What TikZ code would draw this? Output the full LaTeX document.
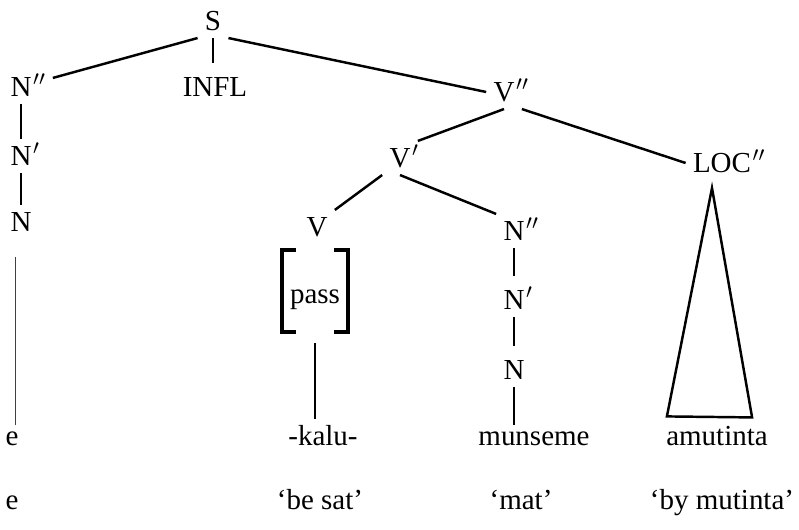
\documentclass[tikz,border=0pt]{standalone}
\usepackage{fontspec}
\setmainfont{Liberation Serif}

\tikzstyle{cat}     = [inner sep = 4pt, text height = 11pt, text depth = 0pt]
\tikzstyle{word}    = [inner sep = 4pt, anchor = base]
\tikzstyle{branch}  = [line width = 1.4pt]
\tikzstyle{bracket} = [line width = 2.4pt]

\newcommand{\onebar}{\rlap{\kern1pt$^{\prime}$}}
\newcommand{\twobar}{\rlap{\kern1pt$^{\prime\prime}$}}

\begin{document}
\begin{tikzpicture}[x = 0.02cm, y = -0.02cm,
    every node/.style = {font = \fontsize{16.5}{20}\selectfont}]
  \useasboundingbox (0, 0) rectangle (799, 530);

  % Categories
  \node[cat] (s)    at (213, 21)  {S};
  \node[cat] (infl) at (215, 87)  {INFL};
  \node[cat] (na2)  at (21, 87)   {N\twobar};
  \node[cat] (na1)  at (21, 156)  {N\onebar};
  \node[cat] (na0)  at (21, 222)  {N};
  \node[cat] (v2)   at (504, 92)  {V\twobar};
  \node[cat] (v1)   at (400, 158) {V\onebar};
  \node[cat] (loc)  at (722, 163) {LOC\twobar};
  \node[cat] (v)    at (317, 227) {V};
  \node[cat] (nb2)  at (514, 231) {N\twobar};
  \node[cat] (nb1)  at (514, 300) {N\onebar};
  \node[cat] (nb0)  at (514, 370) {N};

  % Feature bracket under V
  \node (pass) at (315, 291) [minimum width = 37.5pt, minimum height = 46.7pt,
    text height = 18pt, text depth = 3.6pt] {pass};
  \draw[bracket] ([shift = {(14, 0)}]pass.north west) -| (pass.south west) -- ++(14, 0);
  \draw[bracket] ([shift = {(-14, 0)}]pass.north east) -| (pass.south east) -- ++(-14, 0);

  % Words and glosses
  \node[word] (e)        at (12, 446)  {e};
  \node[word] (kalu)     at (323, 446) {-kalu-};
  \node[word] (munseme)  at (534, 446) {munseme};
  \node[word] (amutinta) at (717, 446) {amutinta};

  \node[word] (e-gl)        at (12, 510)  {e};
  \node[word] (kalu-gl)     at (320, 510) {‘be sat’};
  \node[word] (munseme-gl)  at (521, 510) {‘mat’};
  \node[word] (amutinta-gl) at (722, 510) {‘by mutinta’};

  % Branches
  \draw[branch] (s.south west) -- ([shift = {(14, 8)}]na2.north east);
  \draw[branch, shorten >= 4pt] (s.south) -- (s.south |- infl.north);
  \draw[branch] (s.south east) -- (v2.west);

  \draw[branch] (na2.south) -- (na1.north);
  \draw[branch] (na1.south) -- (na0.north);
  \draw[line width = 0.7pt, black!75, shorten <= 10pt]
    ([xshift = -3pt]na0.south) -- ([xshift = -3pt]na0.south |- e.north);

  \draw[branch] (v2.south) -- (v1.north east);
  \draw[branch] (v2.south east) -- (loc.west);
  \draw[branch] (v1.south west) -- (v.north east);
  \draw[branch] (v1.south) -- (nb2.north west);

  \draw[branch, shorten >= 4pt] (nb2.south) -- (nb1.north);
  \draw[branch, shorten >= 4pt] (nb1.south) -- (nb0.north);
  \draw[branch] (nb0.south) -- (nb0.south |- munseme.north);
  \draw[branch, shorten <= 6pt] (pass.south) -- (pass.south |- kalu.north);

  % Triangle over LOC''
  \draw[branch] ([shift = {(-10, 8)}]loc.south)
    -- ([shift = {(8, -3)}]amutinta.north west)
    -- ([shift = {(-23, -2)}]amutinta.north east) -- cycle;
\end{tikzpicture}
\end{document}
